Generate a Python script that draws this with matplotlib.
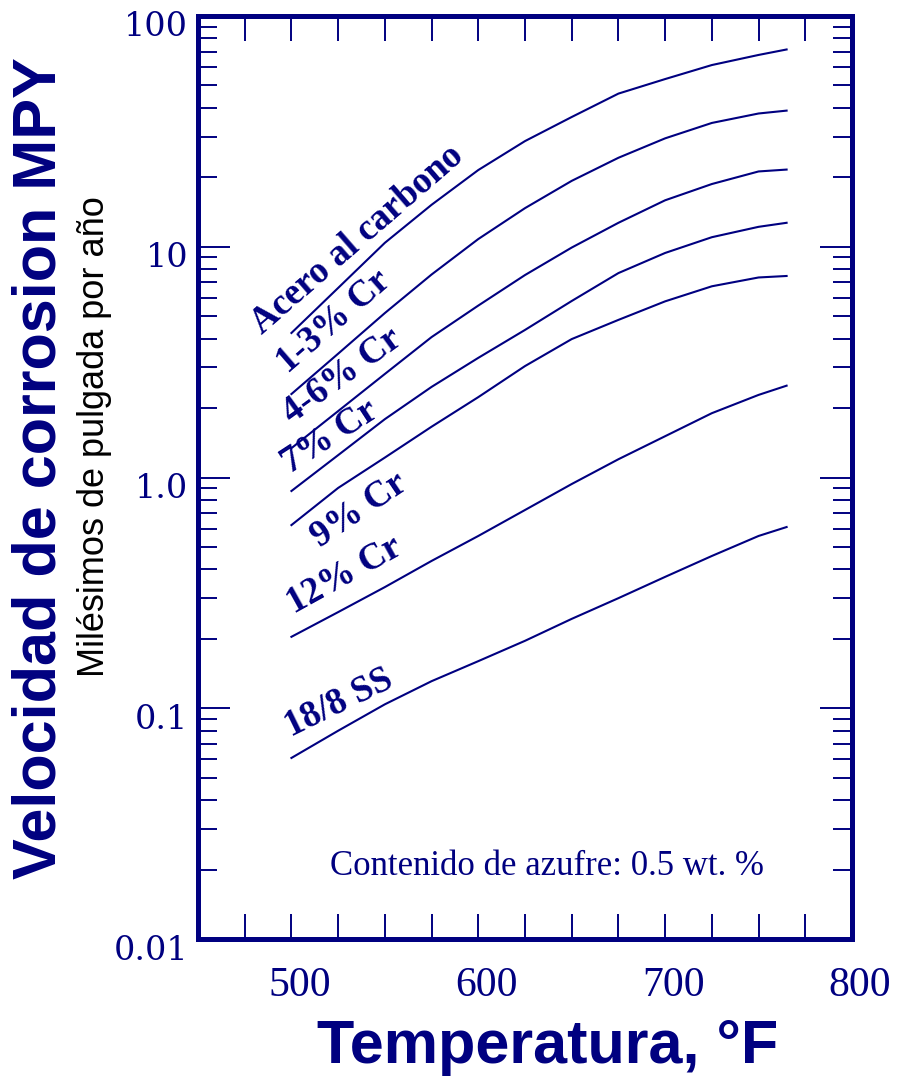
import numpy as np
import matplotlib
matplotlib.use("Agg")
import matplotlib.pyplot as plt
import matplotlib.ticker as mticker
import matplotlib.transforms as mtransforms

navy = '#000080'

# temperatures (deg F) and corrosion rates (mpy)
temps = [500, 525, 550, 575, 600, 625, 650, 675, 700, 725, 750, 765]
acero = [4.23, 6.63, 10.4, 15.2, 21.5, 28.7, 36.5, 46.1, 53.3, 61.3, 67.8, 71.6]
cr_1_3 = [2.30, 3.44, 5.16, 7.58, 10.8, 14.7, 19.3, 24.3, 29.5, 34.4, 37.8, 38.9]
cr_4_6 = [1.34, 1.94, 2.81, 4.06, 5.56, 7.54, 9.92, 12.7, 15.9, 18.7, 21.2, 21.6]
cr_7 = [0.874, 1.25, 1.79, 2.47, 3.30, 4.36, 5.82, 7.69, 9.40, 11.0, 12.2, 12.7]
cr_9 = [0.622, 0.901, 1.22, 1.66, 2.23, 3.04, 3.98, 4.82, 5.80, 6.74, 7.36, 7.47]
cr_12 = [0.204, 0.261, 0.335, 0.435, 0.558, 0.723, 0.937, 1.20, 1.51, 1.90, 2.28, 2.50]
ss_18_8 = [0.0609, 0.0799, 0.104, 0.131, 0.160, 0.196, 0.244, 0.300, 0.371, 0.457, 0.558, 0.610]

series = [acero, cr_1_3, cr_4_6, cr_7, cr_9, cr_12, ss_18_8]
names = ['Acero al carbono', '1-3% Cr', '4-6% Cr', '7% Cr', '9% Cr', '12% Cr', '18/8 SS']
# where each curve label sits (x, y in data units) and its angle
label_x = [484.5, 498.0, 500.5, 499.5, 515.3, 501.4, 499.8]
label_y = [4.15, 2.80, 1.70, 1.04, 0.495, 0.255, 0.075]
label_rot = [41, 41, 36, 33, 34, 29, 26]

yticks = [0.01, 0.1, 1, 10, 100]
ytick_labels = ['0.01', '0.1', '1.0', '10', '100']
xticks = [500, 600, 700, 800]

fig = plt.figure(figsize=(9.07, 10.84), dpi=100)
ax = fig.add_axes([198/907, 1 - 939/1084, 654/907, 923/1084])

for vals in series:
    ax.plot(temps, vals, color=navy, linewidth=1.5)

for name, lx, ly, rot in zip(names, label_x, label_y, label_rot):
    ax.text(lx, ly, name, rotation=rot, rotation_mode='anchor', ha='left', va='baseline',
            fontsize=26.5, fontweight='bold', family='Liberation Serif', color=navy)

ax.text(636.8, 0.0189, 'Contenido de azufre: 0.5 wt. %', ha='center', va='baseline',
        fontsize=25, family='Liberation Serif', color=navy)

ax.set_yscale('log')
ax.set_xlim(450, 800)
ax.set_ylim(0.01, 100)

ax.xaxis.set_major_locator(mticker.FixedLocator(xticks))
ax.xaxis.set_minor_locator(mticker.MultipleLocator(25))
ax.yaxis.set_major_locator(mticker.FixedLocator(yticks))
ax.yaxis.set_major_formatter(mticker.FixedFormatter(ytick_labels))
ax.yaxis.set_minor_locator(mticker.LogLocator(base=10, subs=np.arange(2, 10)))
ax.yaxis.set_minor_formatter(mticker.NullFormatter())

ax.tick_params(axis='x', which='both', direction='in', top=True, bottom=True,
               length=18, width=1.4, color=navy, labelcolor=navy, labelsize=30, pad=20)
ax.tick_params(axis='y', which='major', direction='in', left=True, right=True,
               length=23, width=1.4, color=navy, labelcolor=navy, labelsize=24, pad=7)
ax.tick_params(axis='y', which='minor', direction='in', left=True, right=True,
               length=14, width=1.4, color=navy)

for lab in ax.get_xticklabels():
    lab.set_family('Liberation Serif')
    lab.set_transform(lab.get_transform() + mtransforms.ScaledTranslation(8/100, 0, fig.dpi_scale_trans))
for lab in ax.get_yticklabels():
    lab.set_family('DejaVu Serif')
    lab.set_transform(lab.get_transform() + mtransforms.ScaledTranslation(0, -8/100, fig.dpi_scale_trans))

for sp in ax.spines.values():
    sp.set_color(navy)
    sp.set_linewidth(3.6)

fig.text(40/907, 1 - 468/1084, 'Velocidad de corrosion MPY', rotation=90, ha='center', va='center',
         fontsize=44, fontweight='bold', family='Liberation Sans', color=navy)
fig.text(95/907, 1 - 437/1084, 'Milésimos de pulgada por año', rotation=90, ha='center', va='center',
         fontsize=26, family='Liberation Sans', color='black')
fig.text(548/907, 1 - 1048/1084, 'Temperatura, °F', ha='center', va='center',
         fontsize=44, fontweight='bold', family='Liberation Sans', color=navy)

fig.savefig('out.png', dpi=100)
